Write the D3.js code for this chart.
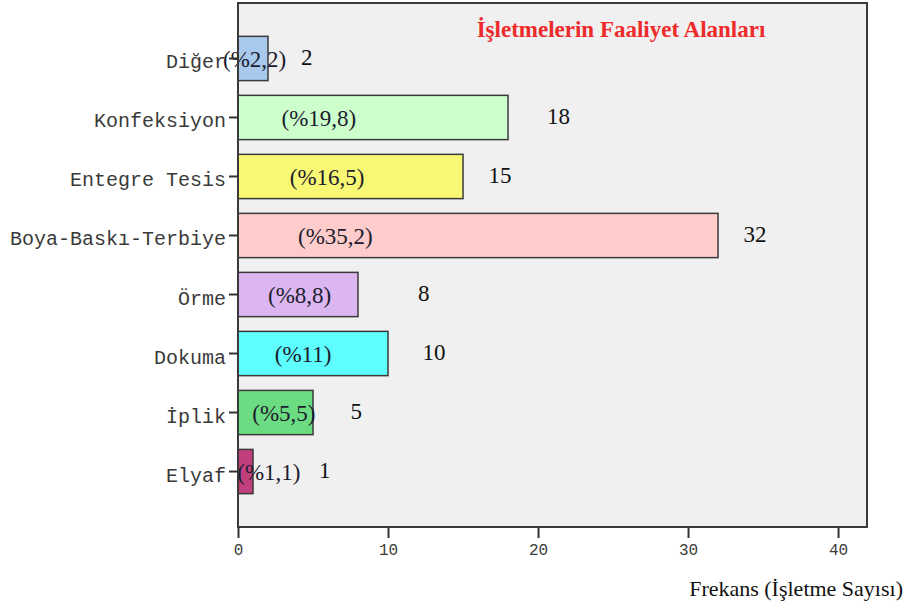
<!DOCTYPE html>
<html>
<head>
<meta charset="utf-8">
<script src="https://cdn.jsdelivr.net/npm/d3@7"></script>
<style>
  body { margin: 0; background: #fff; }
  svg { display: block; }
</style>
</head>
<body>
<svg width="906" height="609"></svg>
<script>
// categories top to bottom
var categories = ["Diğer", "Konfeksiyon", "Entegre Tesis", "Boya-Baskı-Terbiye", "Örme", "Dokuma", "İplik", "Elyaf"];
var counts = [2, 18, 15, 32, 8, 10, 5, 1];
var percents = ["(%2,2)", "(%19,8)", "(%16,5)", "(%35,2)", "(%8,8)", "(%11)", "(%5,5)", "(%1,1)"];
var barColors = ["#a8c9ec", "#ccffcc", "#f8f874", "#ffcccc", "#dbb6f0", "#5effff", "#6cdc82", "#c23f7e"];
var xTicks = [0, 10, 20, 30, 40];
// where the annotations sit, in axis units (they were placed by hand in the original)
var pctLabelAt = [-1.0, 2.9, 3.45, 4.0, 2.0, 2.45, 0.95, -0.05];
var countLabelAt = [4.2, 20.6, 16.7, 33.7, 12.0, 12.3, 7.5, 5.4];

var svg = d3.select("svg"),
  width = +svg.attr("width"),
  height = +svg.attr("height");

var plot = { left: 238, top: 3, right: 867, bottom: 527 };

var x = d3.scaleLinear()
  .domain([0, 41.93])
  .range([plot.left, plot.right]);

var y = d3.scaleBand()
  .domain(categories)
  .range([plot.top, plot.bottom])
  .paddingInner(0.25)
  .paddingOuter(0.565);

var data = categories.map(function (c, i) {
  return { cat: c, n: counts[i], pct: percents[i], color: barColors[i], pa: pctLabelAt[i], ca: countLabelAt[i] };
});

// plot background
svg.append("rect")
  .attr("x", plot.left)
  .attr("y", plot.top)
  .attr("width", plot.right - plot.left)
  .attr("height", plot.bottom - plot.top)
  .attr("fill", "#f0f0f0");

// title
svg.append("text")
  .attr("x", 621)
  .attr("y", 37)
  .attr("text-anchor", "middle")
  .attr("font-family", "Liberation Serif")
  .attr("font-weight", "bold")
  .attr("font-size", 23)
  .attr("fill", "#ee2a2a")
  .text("İşletmelerin Faaliyet Alanları");

// bars
svg.append("g")
  .selectAll("rect")
  .data(data)
  .enter().append("rect")
  .attr("x", x(0))
  .attr("y", function (d) { return y(d.cat); })
  .attr("width", function (d) { return x(d.n) - x(0); })
  .attr("height", y.bandwidth())
  .attr("fill", function (d) { return d.color; })
  .attr("stroke", "#3a3a3a")
  .attr("stroke-width", 1.5);

// percent labels
svg.append("g")
  .selectAll("text")
  .data(data)
  .enter().append("text")
  .attr("x", function (d) { return x(d.pa); })
  .attr("y", function (d) { return y(d.cat) + y.bandwidth() / 2; })
  .attr("dy", "0.35em")
  .attr("font-family", "Liberation Serif")
  .attr("font-size", 23)
  .attr("fill", "#1c1c2e")
  .text(function (d) { return d.pct; });

// count labels
svg.append("g")
  .selectAll("text")
  .data(data)
  .enter().append("text")
  .attr("x", function (d) { return x(d.ca); })
  .attr("y", function (d) { return y(d.cat) + y.bandwidth() / 2; })
  .attr("dy", "0.3em")
  .attr("font-family", "Liberation Serif")
  .attr("font-size", 23)
  .attr("fill", "#111")
  .text(function (d) { return d.n; });

// frame
svg.append("rect")
  .attr("x", plot.left)
  .attr("y", plot.top)
  .attr("width", plot.right - plot.left)
  .attr("height", plot.bottom - plot.top)
  .attr("fill", "none")
  .attr("stroke", "#3a3a3a")
  .attr("stroke-width", 2);

// y axis
var yAxis = svg.append("g")
  .attr("transform", "translate(" + plot.left + ",0)")
  .call(d3.axisLeft(y).tickSize(9).tickPadding(3));
yAxis.select(".domain").remove();
yAxis.selectAll("line").attr("stroke", "#333").attr("stroke-width", 2);
yAxis.selectAll("text")
  .attr("dy", "0.5em")
  .attr("font-family", "Liberation Mono")
  .attr("font-size", 20)
  .attr("fill", "#3a3a3a");

// x axis
var xAxis = svg.append("g")
  .attr("transform", "translate(0," + plot.bottom + ")")
  .call(d3.axisBottom(x).tickValues(xTicks).tickSize(11).tickPadding(6));
xAxis.select(".domain").remove();
xAxis.selectAll("line").attr("stroke", "#333").attr("stroke-width", 2);
xAxis.selectAll("text")
  .attr("font-family", "Liberation Mono")
  .attr("font-size", 16)
  .attr("fill", "#3a3a3a");

// x axis title
svg.append("text")
  .attr("x", 903)
  .attr("y", 596)
  .attr("text-anchor", "end")
  .attr("font-family", "Liberation Serif")
  .attr("font-size", 22)
  .attr("fill", "#111")
  .text("Frekans (İşletme Sayısı)");
</script>
</body>
</html>
